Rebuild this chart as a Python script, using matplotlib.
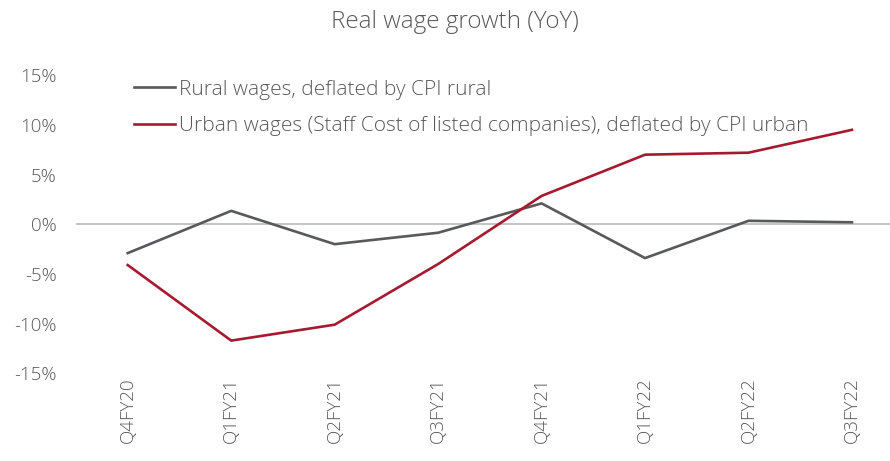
import numpy as np
import matplotlib
matplotlib.use('Agg')
import matplotlib.pyplot as plt
from matplotlib.ticker import FuncFormatter

quarters = ['Q4FY20', 'Q1FY21', 'Q2FY21', 'Q3FY21',
            'Q4FY21', 'Q1FY22', 'Q2FY22', 'Q3FY22']
rural = [-2.9, 1.35, -2.0, -0.85, 2.1, -3.4, 0.35, 0.2]
urban = [-4.1, -11.7, -10.1, -4.0, 2.85, 7.0, 7.2, 9.5]

text_col = '#595959'
plt.rcParams['font.family'] = ['Open Sans', 'DejaVu Sans']
plt.rcParams['font.weight'] = 'light'

fig = plt.figure(figsize=(8.9, 4.61), dpi=100)
# plot area runs a little past the right edge of the canvas
ax = fig.add_axes([0.0854, 0.19, 0.930, 0.647])

x = np.arange(len(quarters))
ax.axhline(0, color='#bfbfbf', lw=1.3, zorder=1)
ax.plot(x, rural, color='#58595b', lw=1.9,
        label='Rural wages, deflated by CPI rural', zorder=3)
ax.plot(x, urban, color='#a6192e', lw=1.9,
        label='Urban wages (Staff Cost of listed companies), deflated by CPI urban',
        zorder=3)

ax.set_xlim(-0.5, len(quarters) - 0.5)
ax.set_ylim(-15, 15)
ax.set_yticks(np.arange(-15, 16, 5))
ax.yaxis.set_major_formatter(FuncFormatter(lambda v, p: '{:.0f}%'.format(v)))
ax.set_xticks(x)
ax.set_xticklabels(quarters, rotation=90, va='top', ha='center')

for s in ax.spines.values():
    s.set_visible(False)
ax.tick_params(axis='both', length=0, colors=text_col, labelsize=13.5)
ax.tick_params(axis='y', pad=14)
ax.tick_params(axis='x', pad=3)

fig.text(0.511, 0.952, 'Real wage growth (YoY)', ha='center', va='center',
         color=text_col, fontsize=17.5)

leg = ax.legend(loc='upper left', bbox_to_anchor=(0.1506, 0.827),
                bbox_transform=fig.transFigure, frameon=False,
                fontsize=15, handlelength=1.98, handletextpad=0.2,
                labelspacing=0.8, borderpad=0, borderaxespad=0)
for t in leg.get_texts():
    t.set_color(text_col)

fig.savefig('out.png', dpi=100)
